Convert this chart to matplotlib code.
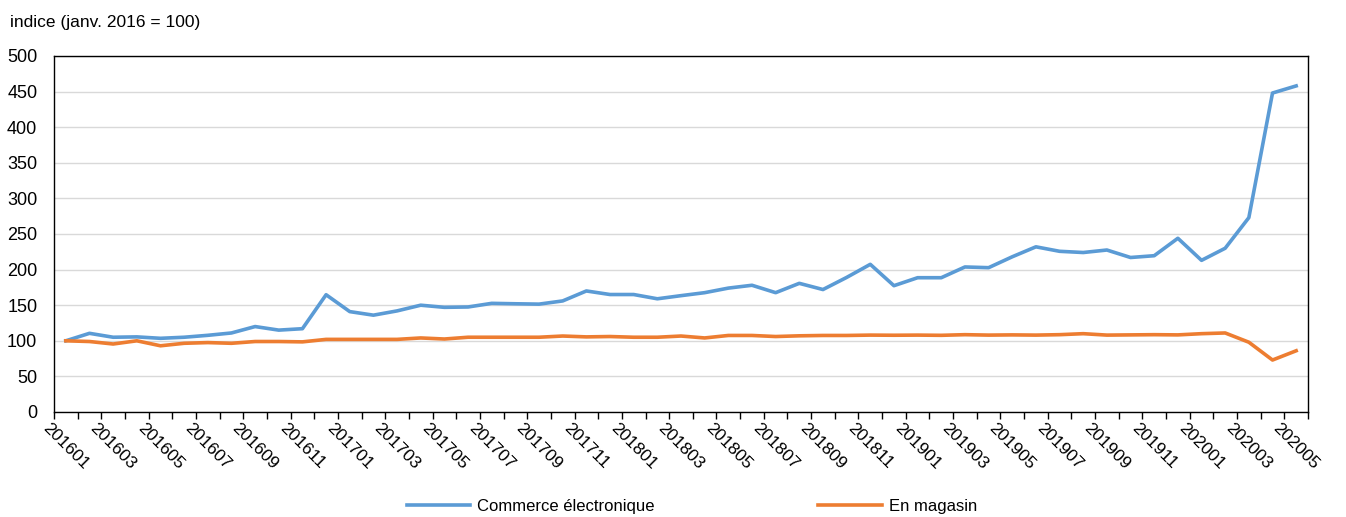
import matplotlib
matplotlib.use("Agg")
import matplotlib.pyplot as plt
import numpy as np

plt.rcParams['font.family'] = ['Liberation Sans Narrow', 'Liberation Sans', 'DejaVu Sans']

months = [f"{y}{m:02d}" for y in range(2016, 2021) for m in range(1, 13)][:53]

ecommerce = [100, 110.5, 105, 105.5, 103.5, 105, 107.7, 111, 120, 115, 117, 164.7,
             141, 136, 142, 150, 147, 147.5, 152.6, 152, 151.5, 156, 170, 165,
             165, 159, 163.4, 167.6, 174, 178, 167.6, 180.7, 172, 189, 207.4, 177.4,
             188.6, 188.6, 203.7, 202.7, 218, 232, 225.7, 224, 227.5, 217, 219.5, 244,
             213, 230, 273, 448, 458]
magasin = [100, 99, 95.5, 100, 93, 96.5, 97.5, 96.5, 99, 99, 98.5, 102,
           102, 102, 102, 104, 102.5, 105, 105, 105, 105, 106.7, 105.5, 106,
           105, 105, 106.7, 104, 107.5, 107.5, 106, 107, 107.5, 107.5, 108, 107.8,
           108, 107.7, 108.6, 108, 108.3, 108, 108.6, 110, 108, 108.3, 108.6, 108.3,
           110, 111, 98, 73, 86]

tick_labels = months[::2]

fig = plt.figure(figsize=(13.46, 5.17), dpi=100)
ax = fig.add_axes([54/1346, 1-412/517, (1308-54)/1346, (412-56)/517])

x = np.arange(len(months))
ax.plot(x, ecommerce, color='#5B9BD5', lw=2.6, label='Commerce électronique', solid_joinstyle='round')
ax.plot(x, magasin, color='#ED7D31', lw=2.6, label='En magasin', solid_joinstyle='round')

ax.set_xlim(-0.5, len(months)-0.5)
ax.set_ylim(0, 500)
ax.set_yticks(np.arange(0, 501, 50))
ax.grid(axis='y', color='#d9d9d9', lw=1.0)
ax.set_axisbelow(True)

# category boundary ticks
ax.set_xticks(np.arange(-0.5, len(months)+0.5, 1), minor=False)
ax.set_xticklabels([])
ax.tick_params(axis='x', which='major', direction='out', length=5, width=1, color='black')
ax.set_xticks(x[::2], minor=True)
ax.set_xticklabels(tick_labels, minor=True, rotation=-45, ha='center', va='top', fontsize=12.5)
ax.tick_params(axis='x', which='minor', length=0, pad=6)
ax.tick_params(axis='y', length=0, labelsize=13, pad=12)

for s in ax.spines.values():
    s.set_color('black')
    s.set_linewidth(1.0)

fig.text(10/1346, 1-22/517, 'indice (janv. 2016 = 100)', fontsize=12.5, va='center', ha='left')

fig.legend(loc='center', bbox_to_anchor=(692/1346, 1-506/517), ncol=2, frameon=False,
           fontsize=12, handlelength=3.8, handletextpad=0.45, columnspacing=9.8)

fig.savefig('out.png', dpi=100)
